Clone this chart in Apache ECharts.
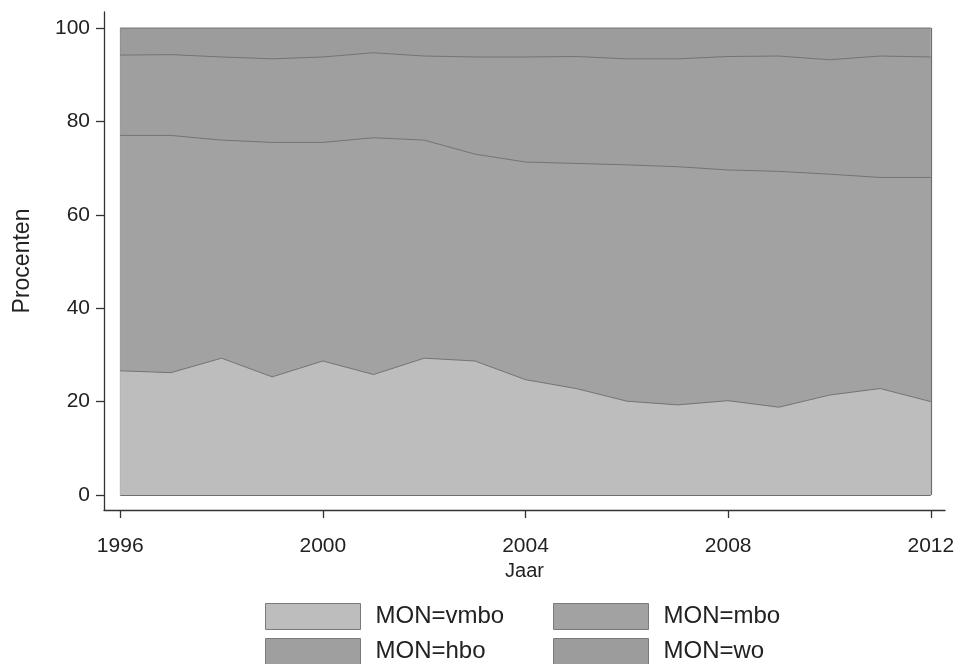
<!DOCTYPE html>
<html>
<head>
<meta charset="utf-8">
<script src="https://cdn.jsdelivr.net/npm/echarts@6/dist/echarts.min.js"></script>
<style>html,body{margin:0;padding:0;background:#fff;}#c{width:959px;height:664px;}</style>
</head>
<body>
<div id="c"></div>
<script>
// Data (percent shares per year, stacked to 100)
const years = [1996,1997,1998,1999,2000,2001,2002,2003,2004,2005,2006,2007,2008,2009,2010,2011,2012];
const vmbo = [26.6,26.2,29.3,25.3,28.7,25.8,29.3,28.7,24.7,22.8,20.1,19.3,20.2,18.8,21.4,22.8,20.0];
const mbo  = [50.4,50.8,46.7,50.2,46.8,50.7,46.7,44.3,46.6,48.2,50.6,51.0,49.4,50.5,47.3,45.2,48.0];
const hbo  = [17.2,17.3,17.8,17.9,18.3,18.2,18.0,20.8,22.5,22.9,22.7,23.1,24.3,24.7,24.5,26.0,25.8];
const wo   = [5.8,5.7,6.2,6.6,6.2,5.3,6.0,6.2,6.2,6.1,6.6,6.6,6.1,6.0,6.8,6.0,6.2];
const xTicks = [1996,2000,2004,2008,2012];
const yTicks = [0,20,40,60,80,100];
const seriesNames = ['MON=vmbo','MON=mbo','MON=hbo','MON=wo'];

const colors = ['#bdbdbd','#a2a2a2','#9f9f9f','#9c9c9c'];
const font = 'Liberation Sans, Arial, sans-serif';
const chart = echarts.init(document.getElementById('c'), null, {renderer:'canvas'});

// cumulative tops (stacking done here since the x axis is a value axis)
const dataSets = [vmbo, mbo, hbo, wo];
const cum = [];
let running = years.map(()=>0);
dataSets.forEach(d=>{
  running = running.map((r,i)=>Math.round((r + d[i])*10)/10);
  cum.push(running.slice());
});

const lastY = years[years.length-1];
const borderLines = [
  [{coord:[years[0],0]},{coord:[years[0],100]}],
  [{coord:[lastY,0]},{coord:[lastY,100]}],
  [{coord:[years[0],0]},{coord:[lastY,0]}]
];

const series = cum.map((c,i)=>({
  name: seriesNames[i],
  type: 'line',
  data: years.map((y,k)=>[y, c[k]]),
  symbol: 'none',
  smooth: false,
  lineStyle: {color:'#747474', width:1},
  areaStyle: {color: colors[i], opacity:1, origin:0},
  itemStyle: {color: colors[i]},
  z: 10 - i,
  silent: true,
  animation: false,
  markLine: i===0 ? {
    silent:true, symbol:['none','none'], label:{show:false},
    lineStyle:{color:'#6e6e6e', width:1.2, type:'solid'},
    data: borderLines, animation:false
  } : undefined
}));

const legendCommon = {
  orient:'vertical', itemWidth:95, itemHeight:26, itemGap:8, icon:'rect',
  height:120,
  textStyle:{fontFamily:font, fontSize:24, color:'#222', padding:[0,0,0,10]},
  itemStyle:{borderColor:'#7a7a7a', borderWidth:1},
  selectedMode:false, padding:0
};

chart.setOption({
  backgroundColor:'#ffffff',
  animation:false,
  grid:{left:104, right:14, top:12, bottom:154, containLabel:false, outerBoundsMode:'none'},
  legend:[
    Object.assign({}, legendCommon, {left:265, top:603, data:[seriesNames[0], seriesNames[2]]}),
    Object.assign({}, legendCommon, {left:553, top:603, data:[seriesNames[1], seriesNames[3]]})
  ],
  xAxis:{
    type:'value', min:1995.68, max:2012.28,
    name:'Jaar', nameLocation:'middle', nameGap:48,
    nameTextStyle:{fontFamily:font, fontSize:20, color:'#222'},
    axisLine:{show:true, onZero:false, lineStyle:{color:'#333', width:1.3}},
    axisTick:{show:true, length:8, customValues:xTicks, lineStyle:{color:'#333', width:1.3}},
    axisLabel:{customValues:xTicks, margin:26, fontFamily:font, fontSize:21, color:'#222', formatter:v=>String(v)},
    splitLine:{show:false}
  },
  yAxis:{
    type:'value', min:-3.21, max:103.43,
    name:'Procenten', nameLocation:'middle', nameGap:70, nameRotate:90,
    nameTextStyle:{fontFamily:font, fontSize:23, color:'#222'},
    axisLine:{show:true, onZero:false, lineStyle:{color:'#333', width:1.3}},
    axisTick:{show:true, length:8, customValues:yTicks, lineStyle:{color:'#333', width:1.3}},
    axisLabel:{customValues:yTicks, margin:14, fontFamily:font, fontSize:21, color:'#222', formatter:v=>String(v)},
    splitLine:{show:false}
  },
  series: series
});
</script>
</body>
</html>
